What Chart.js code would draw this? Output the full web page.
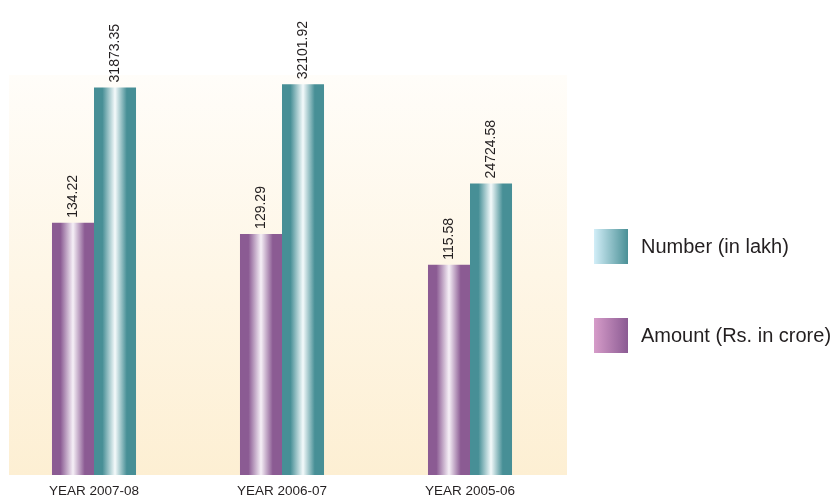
<!DOCTYPE html>
<html><head><meta charset="utf-8">
<script src="https://cdn.jsdelivr.net/npm/chart.js@4"></script>
<style>
html,body{margin:0;padding:0;background:#fff;}
#wrap{position:relative;width:839px;height:498px;overflow:hidden;}
canvas{display:block;}
.lg{position:absolute;left:594px;width:34px;height:35px;}
.lt{position:absolute;left:641px;font:20px "Liberation Sans",Arial,sans-serif;color:#231f20;line-height:35px;white-space:nowrap;}
</style></head><body>
<div id="wrap"><canvas id="c" width="839" height="498"></canvas></div>
<script>
const categories = ['YEAR 2007-08', 'YEAR 2006-07', 'YEAR 2005-06'];
const amountValues = [134.22, 129.29, 115.58];
const numberValues = [31873.35, 32101.92, 24724.58];
const seriesNames = ['Amount (Rs. in crore)', 'Number (in lakh)'];

const FONT = '"Liberation Sans", Arial, Helvetica, sans-serif';
const CAT_PCT = 0.447;
const PURPLE = '#8b5b93', PURPLE_L = '#f6f0f7';
const TEAL = '#478f96', TEAL_L = '#f4fafb';

function barGradient(base, light, isLeft) {
  return function (ctx) {
    const chart = ctx.chart;
    const xs = chart.scales.x;
    if (!xs || !chart.chartArea) return base;
    const c = xs.getPixelForValue(ctx.dataIndex);
    const w = (xs.width / categories.length) * CAT_PCT / 2;
    const x0 = isLeft ? c - w : c;
    const g = chart.ctx.createLinearGradient(x0, 0, x0 + w, 0);
    g.addColorStop(0, base);
    g.addColorStop(0.2, base);
    g.addColorStop(0.5, light);
    g.addColorStop(0.78, base);
    g.addColorStop(1, base);
    return g;
  };
}

const bgPlugin = {
  id: 'bgPlugin',
  beforeDraw(chart) {
    const { ctx, chartArea: a } = chart;
    const g = ctx.createLinearGradient(0, a.top, 0, a.bottom);
    g.addColorStop(0, '#fffdf9');
    g.addColorStop(1, '#fdefd3');
    ctx.save();
    ctx.fillStyle = g;
    ctx.fillRect(a.left + 9, a.top, a.right - a.left - 6, a.bottom - a.top);
    ctx.restore();
  }
};

const labelPlugin = {
  id: 'labelPlugin',
  afterDatasetsDraw(chart) {
    const ctx = chart.ctx;
    ctx.save();
    ctx.fillStyle = '#231f20';
    ctx.font = '14px ' + FONT;
    ctx.textAlign = 'left';
    ctx.textBaseline = 'middle';
    chart.data.datasets.forEach((ds, di) => {
      const meta = chart.getDatasetMeta(di);
      meta.data.forEach((el, i) => {
        ctx.save();
        ctx.translate(el.x, el.y - 5);
        ctx.rotate(-Math.PI / 2);
        ctx.fillText(ds.data[i].toFixed(2), 0, 0);
        ctx.restore();
      });
    });
    ctx.restore();
  }
};

new Chart(document.getElementById('c'), {
  type: 'bar',
  data: {
    labels: categories,
    datasets: [
      { label: seriesNames[0], data: amountValues, yAxisID: 'yA',
        backgroundColor: barGradient(PURPLE, PURPLE_L, true),
        borderWidth: 0, categoryPercentage: CAT_PCT, barPercentage: 1 },
      { label: seriesNames[1], data: numberValues, yAxisID: 'yN',
        backgroundColor: barGradient(TEAL, TEAL_L, false),
        borderWidth: 0, categoryPercentage: CAT_PCT, barPercentage: 1 }
    ]
  },
  options: {
    responsive: false,
    animation: false,
    devicePixelRatio: 1,
    layout: { padding: { top: 75, right: 275, left: 0, bottom: -9 } },
    plugins: { legend: { display: false }, tooltip: { enabled: false } },
    scales: {
      x: {
        grid: { display: false, drawTicks: false },
        border: { display: false },
        ticks: { padding: 8, maxRotation: 0, color: '#231f20',
          font: { family: FONT, size: 13.5, lineHeight: 1.185 } }
      },
      yA: { type: 'linear', display: false, min: 22, max: 200 },
      yN: { type: 'linear', display: false, min: 3000, max: 32800 }
    }
  },
  plugins: [bgPlugin, labelPlugin]
});

// Legend (HTML, real text)
const legendItems = [
  { name: seriesNames[1], grad: 'linear-gradient(to right,#d2eef8,#4a9096)', top: 229 },
  { name: seriesNames[0], grad: 'linear-gradient(to right,#d69cc9,#8b5b93)', top: 318 }
];
const wrap = document.getElementById('wrap');
legendItems.forEach(it => {
  const sw = document.createElement('div');
  sw.className = 'lg'; sw.style.top = it.top + 'px'; sw.style.background = it.grad;
  const tx = document.createElement('div');
  tx.className = 'lt'; tx.style.top = it.top + 'px'; tx.textContent = it.name;
  wrap.appendChild(sw); wrap.appendChild(tx);
});
</script>
</body></html>
